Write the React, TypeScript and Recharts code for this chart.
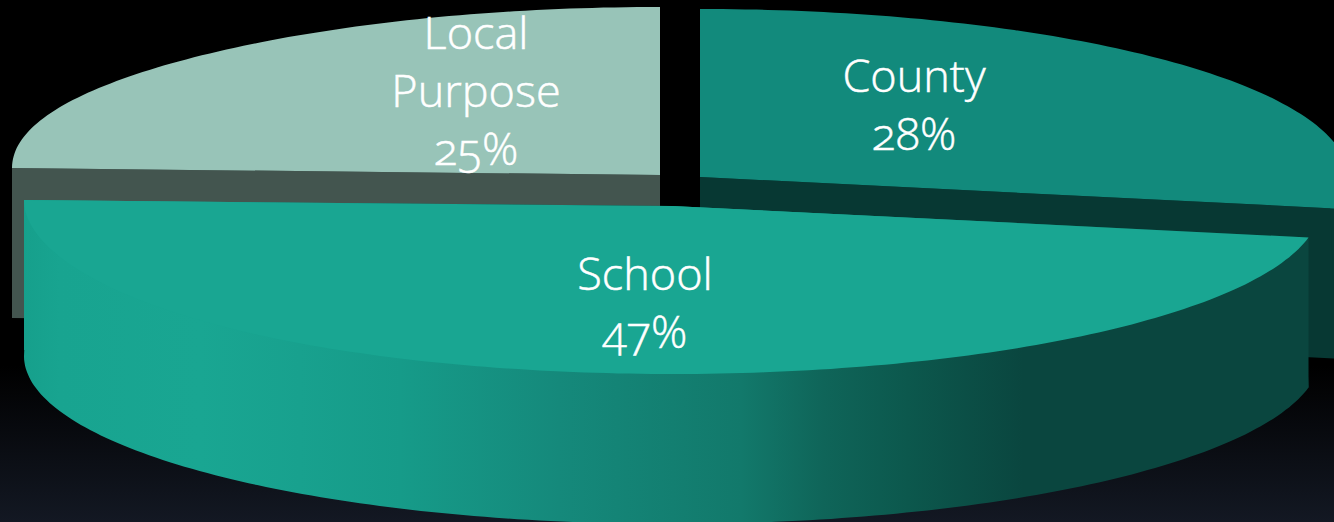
import { PieChart, Pie, Cell } from "recharts";

const categories = ["Local Purpose", "County", "School"];
const shares = [25, 28, 47];

const topColors = ["#98c4b8", "#128a7c", "#19a692"];
const wallColors = ["#43554f", "#073833", "url(#schoolWall)"];

// how far each slice is pulled out of the pie, and how much its back left corner lifts
const offsets = [
  { dx: -12, dy: -31, lift: 7 },
  { dx: 28, dy: -29, lift: 0 },
  { dx: 0, dy: 0, lift: 6 },
];
const labelSpots = [
  { x: 476, y: 49 },
  { x: 914, y: 92 },
  { x: 645, y: 290 },
];

const WIDTH = 1334;
const HEIGHT = 522;
const FLATTEN = 168 / 648;
const DEPTH = 150;
const RAD = Math.PI / 180;

function SliceShape(props: any) {
  const { cx, cy, outerRadius, startAngle, endAngle, name, fill } = props;
  const idx = categories.indexOf(name);
  const { dx, dy, lift } = offsets[idx];
  const mx = cx + dx;
  const my = cy + dy;

  const flat = (deg: number): [number, number] => [
    mx + outerRadius * Math.cos(deg * RAD),
    my - outerRadius * FLATTEN * Math.sin(deg * RAD),
  ];
  const point = (deg: number): [number, number] => {
    const cos = Math.cos(deg * RAD);
    const corner = cos < 0 ? lift * Math.pow(-cos, 6) : 0;
    const p = flat(deg);
    return [p[0], p[1] - corner];
  };

  const angles: number[] = [];
  for (let a = startAngle; a > endAngle; a -= 1) angles.push(a);
  angles.push(endAngle);

  const toPath = (pts: [number, number][]) =>
    "M" + pts.map((p) => `${p[0].toFixed(1)},${p[1].toFixed(1)}`).join("L") + "Z";

  const radial = (deg: number) => {
    const p = point(deg);
    return toPath([[mx, my], p, [p[0], p[1] + DEPTH], [mx, my + DEPTH]]);
  };

  // rim is only seen on the part of the arc facing us
  // its upper edge sits a little inside the top so no dark seam shows between them
  const rimAngles = angles.filter((a) => Math.sin(a * RAD) <= 0);
  const rim = rimAngles.length > 1
    ? toPath([
        ...rimAngles.map((a): [number, number] => {
          const p = point(a);
          return [mx + (p[0] - mx) * 0.99, my + (p[1] - my) * 0.99];
        }),
        ...rimAngles.slice().reverse().map((a): [number, number] => {
          const p = flat(a);
          return [p[0], p[1] + DEPTH];
        }),
      ])
    : null;

  return (
    <g>
      <path d={radial(startAngle)} fill={wallColors[idx]} />
      <path d={radial(endAngle)} fill={wallColors[idx]} />
      {rim && <path d={rim} fill={wallColors[idx]} />}
      <path d={toPath([[mx, my], ...angles.map(point)])} fill={fill} />
    </g>
  );
}

function SliceLabel(props: any) {
  const idx = categories.indexOf(props.name);
  const spot = labelSpots[idx];
  const lines = [...categories[idx].split(" "), `${shares[idx]}%`];
  return (
    <text
      x={spot.x}
      y={spot.y}
      textAnchor="middle"
      fill="#ffffff"
      stroke="#ffffff"
      strokeWidth={0.5}
      fontFamily="'Open Sans', Lato, sans-serif"
      fontSize={45}
      fontWeight={300}
      style={{ fontVariantNumeric: "oldstyle-nums" }}
    >
      {lines.map((line, i) => (
        <tspan key={line} x={spot.x} dy={i === 0 ? 0 : 58}>
          {line}
        </tspan>
      ))}
    </text>
  );
}

export default function App() {
  const chartData = categories.map((name, i) => ({ name, value: shares[i] }));

  return (
    <div
      style={{
        position: "fixed",
        left: 0,
        top: 0,
        width: WIDTH,
        height: HEIGHT,
        overflow: "hidden",
        background: "linear-gradient(180deg, #000000 0%, #000000 70%, #131823 100%)",
      }}
    >
      <PieChart width={WIDTH} height={HEIGHT} margin={{ top: 0, right: 0, bottom: 0, left: 0 }}>
        <defs>
          <linearGradient id="schoolWall" x1="0" y1="0" x2="1" y2="0">
            <stop offset="0%" stopColor="#16a08c" />
            <stop offset="2.8%" stopColor="#18a490" />
            <stop offset="13.7%" stopColor="#19a692" />
            <stop offset="21.5%" stopColor="#18a18e" />
            <stop offset="29.3%" stopColor="#169b89" />
            <stop offset="41.7%" stopColor="#15897b" />
            <stop offset="55.8%" stopColor="#12796b" />
            <stop offset="62.2%" stopColor="#0f6559" />
            <stop offset="68.8%" stopColor="#0c584d" />
            <stop offset="77.8%" stopColor="#0a463f" />
            <stop offset="100%" stopColor="#0a463f" />
          </linearGradient>
        </defs>
        <Pie
          data={chartData}
          dataKey="value"
          nameKey="name"
          cx={672}
          cy={206}
          innerRadius={0}
          outerRadius={648}
          startAngle={180}
          endAngle={-180}
          stroke="none"
          shape={SliceShape}
          label={SliceLabel}
          labelLine={false}
          isAnimationActive={false}
        >
          {chartData.map((entry, index) => (
            <Cell key={entry.name} fill={topColors[index]} />
          ))}
        </Pie>
      </PieChart>
    </div>
  );
}
